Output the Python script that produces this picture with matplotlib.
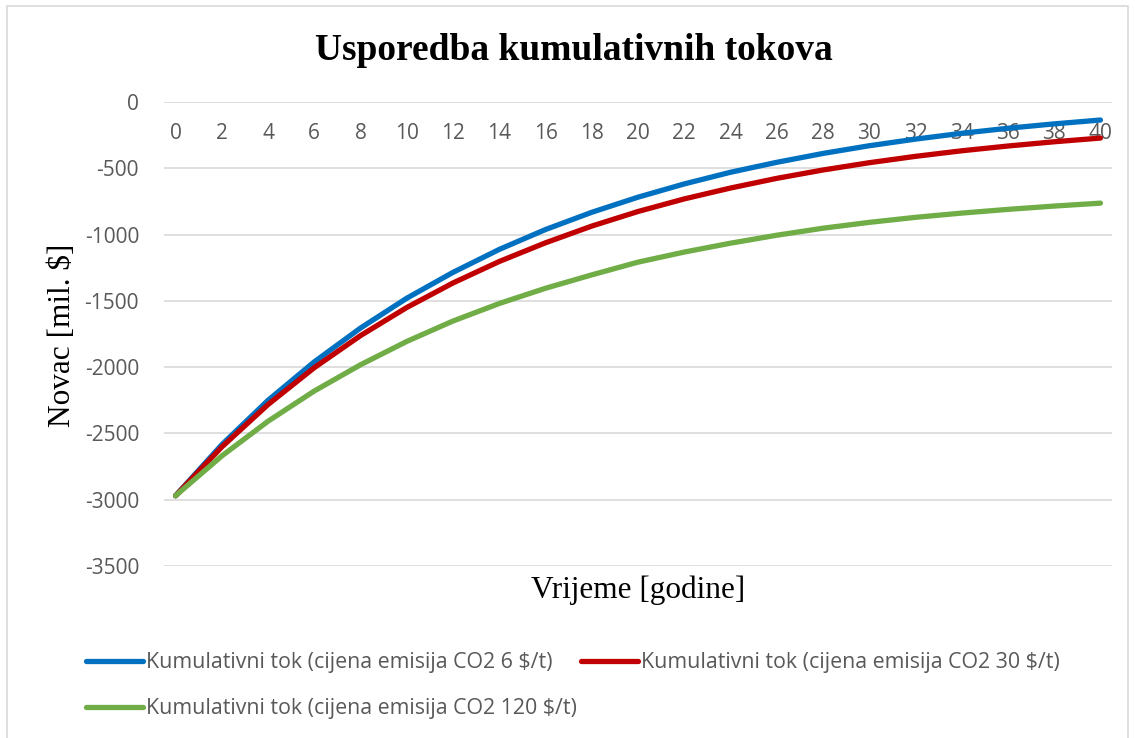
import matplotlib

matplotlib.use("Agg")
import matplotlib.pyplot as plt
from matplotlib.patches import Rectangle

plt.rcParams["axes.unicode_minus"] = False

# years (every second year)
years = [0, 2, 4, 6, 8, 10, 12, 14, 16, 18, 20, 22, 24, 26, 28, 30, 32, 34, 36, 38, 40]

# cumulative cash flow [mil. $]
tok_6 = [-2970, -2585, -2250, -1960, -1705, -1480, -1285, -1112, -962, -832, -718,
         -618, -530, -455, -388, -330, -280, -236, -198, -165, -136]
tok_30 = [-2970, -2602, -2282, -2004, -1762, -1550, -1365, -1203, -1062, -936, -826,
          -731, -649, -576, -513, -458, -410, -368, -332, -300, -272]
tok_120 = [-2970, -2670, -2408, -2180, -1982, -1806, -1652, -1520, -1405, -1304, -1208,
           -1132, -1065, -1005, -952, -908, -870, -838, -810, -785, -763]

labels = [
    "Kumulativni tok (cijena emisija CO2 6 $/t)",
    "Kumulativni tok (cijena emisija CO2 30 $/t)",
    "Kumulativni tok (cijena emisija CO2 120 $/t)",
]
colors = ["#0070C0", "#C00000", "#70AD47"]

sans = ["Open Sans", "DejaVu Sans"]
serif = ["Liberation Serif", "DejaVu Serif"]
grey = "#595959"

fig = plt.figure(figsize=(11.35, 7.38), dpi=100)
fig.patches.append(Rectangle((7 / 1135, -0.05), 1121 / 1135, 1 - 6 / 738 + 0.05,
                             transform=fig.transFigure, fill=False,
                             edgecolor="#d9d9d9", linewidth=1.2))

ax = fig.add_axes([164 / 1135, 1 - 566 / 738, 948 / 1135, 464 / 738])
lines = []
for values, color, label in zip([tok_6, tok_30, tok_120], colors, labels):
    (line,) = ax.plot(years, values, color=color, linewidth=3.8, label=label,
                      solid_capstyle="round")
    lines.append(line)

ax.set_xlim(-0.5, 40.5)
ax.set_ylim(-3500, 0)
ax.set_yticks(range(-3500, 1, 500))
ax.set_xticks(years)
ax.grid(axis="y", color="#d9d9d9", linewidth=1.2)
ax.set_axisbelow(True)
for spine in ax.spines.values():
    spine.set_visible(False)

ax.xaxis.set_ticks_position("top")
ax.tick_params(axis="x", length=0, pad=-30, labelsize=15, labelcolor=grey)
ax.tick_params(axis="y", length=0, pad=18, labelsize=15, labelcolor=grey)
for tick in ax.get_xticklabels() + ax.get_yticklabels():
    tick.set_fontfamily(sans)

fig.text(574 / 1135, 1 - 50 / 738, "Usporedba kumulativnih tokova", ha="center",
         va="center", fontsize=27, fontweight="bold", family=serif)
fig.text(62 / 1135, 1 - 335 / 738, "Novac [mil. $]", rotation=90, ha="center",
         va="center", fontsize=22.5, family=serif)
fig.text(638 / 1135, 1 - 590 / 738, "Vrijeme [godine]", ha="center", va="center",
         fontsize=22.5, family=serif)

# Excel flows the legend entries in rows: first two on one row, third below
legend_style = dict(loc="upper left", frameon=False, borderpad=0, borderaxespad=0,
                    handlelength=2.65, handletextpad=0.14, columnspacing=1.35,
                    prop={"family": sans, "size": 15.4})
top_row = fig.legend(lines[:2], labels[:2], ncol=2,
                     bbox_to_anchor=(86 / 1135, 1 - 652 / 738), **legend_style)
bottom_row = fig.legend(lines[2:], labels[2:], ncol=1,
                        bbox_to_anchor=(86 / 1135, 1 - 698 / 738), **legend_style)
for legend in (top_row, bottom_row):
    for text in legend.get_texts():
        text.set_color(grey)

fig.savefig("out.png", dpi=100)
